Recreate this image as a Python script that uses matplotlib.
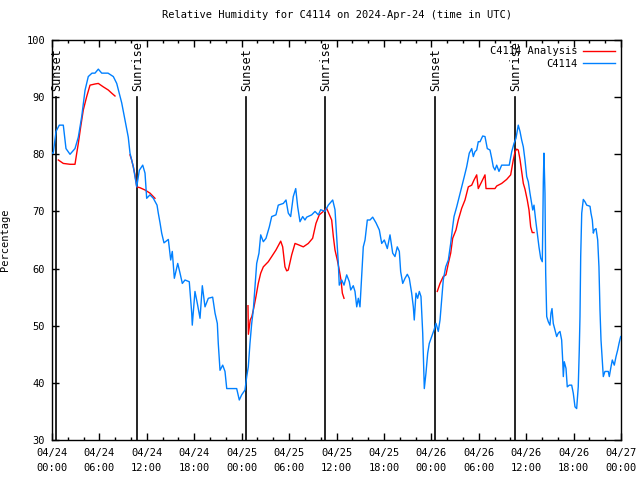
import matplotlib
matplotlib.use("Agg")
import matplotlib.pyplot as plt
import numpy as np

# Station observations (hours since 2024-04-24 00:00 UTC, relative humidity %)
obs_hours = [0.05, 0.16, 0.51, 0.92, 1.43, 1.77, 2.28, 2.91, 3.33, 3.76, 4.18, 4.59, 5.06, 5.44, 5.86,
             6.29, 7.09, 7.76, 8.19, 8.82, 9.24, 9.65, 9.87, 10.29, 10.72, 11.05, 11.48, 11.77, 11.98,
             12.40, 12.82, 13.29, 13.45, 13.67, 13.88, 14.17, 14.72, 15.02, 15.22, 15.48, 15.91, 16.20,
             16.49, 16.83, 17.37, 17.68, 17.75, 18.09, 18.39, 18.73, 19.02, 19.36, 19.78, 20.33, 20.63,
             20.92, 21.04, 21.26, 21.60, 21.89, 22.11, 23.37, 23.70, 24.00, 24.42, 24.64, 24.84, 25.05,
             25.27, 25.47, 25.69, 25.90, 26.19, 26.41, 26.74, 27.08, 27.50, 27.80, 28.34, 28.63, 29.27,
             29.61, 29.90, 30.20, 30.53, 30.84, 31.09, 31.38, 31.72, 32.01, 32.23, 32.86, 33.28, 33.70,
             34.00, 34.54, 34.96, 35.52, 35.81, 36.02, 36.23, 36.35, 36.66, 36.95, 37.29, 37.62, 37.80,
             38.12, 38.34, 38.56, 38.76, 38.97, 39.19, 39.39, 39.61, 39.90, 40.24, 40.58, 41.00, 41.42,
             41.72, 42.05, 42.43, 42.77, 43.11, 43.40, 43.69, 43.95, 44.12, 44.38, 44.67, 44.96, 45.21,
             45.51, 45.72, 45.84, 46.06, 46.27, 46.48, 46.69, 46.91, 47.11, 47.32, 47.54, 47.74, 48.05,
             48.34, 48.59, 48.88, 49.10, 49.31, 49.51, 49.82, 50.15, 50.45, 50.70, 50.87, 51.21, 51.54,
             51.84, 52.17, 52.47, 52.80, 53.11, 53.31, 53.52, 53.74, 53.94, 54.16, 54.50, 54.79, 55.08,
             55.42, 55.64, 55.84, 56.05, 56.27, 56.56, 56.90, 57.86, 58.17, 58.46, 58.71, 59.00, 59.22,
             59.43, 59.64, 59.85, 60.07, 60.27, 60.48, 60.70, 60.83, 60.99, 61.20, 61.41, 61.62, 61.84,
             62.04, 62.09, 62.17, 62.25, 62.38, 62.47, 62.60, 62.80, 63.01, 63.14, 63.27, 63.43, 63.65,
             63.86, 64.06, 64.28, 64.49, 64.62, 64.70, 64.82, 65.04, 65.20, 65.46, 65.76, 65.96, 66.18,
             66.39, 66.59, 66.72, 66.81, 66.90, 67.03, 67.23, 67.44, 67.66, 68.08, 68.20, 68.37, 68.50,
             68.62, 68.84, 69.05, 69.21, 69.34, 69.47, 69.63, 69.76, 69.97, 70.39, 70.52, 70.70, 70.90,
             71.15, 71.37, 71.58, 71.75, 71.96]
obs_rh = [80.2, 80.2, 84.0, 85.1, 85.1, 81.0, 80.0, 81.0, 83.0, 86.6, 91.2, 93.6, 94.2, 94.2, 94.9,
          94.2, 94.2, 93.6, 92.4, 89.0, 86.0, 83.0, 80.2, 77.8, 74.3, 77.2, 78.1, 76.7, 72.3,
          72.9, 72.3, 71.1, 69.7, 68.0, 66.2, 64.5, 65.1, 61.5, 63.0, 58.3, 60.9, 59.2,
          57.4, 58.0, 57.7, 52.2, 50.1, 56.0, 53.9, 51.3, 57.0, 53.3, 54.8, 55.0, 52.2,
          50.4, 46.9, 42.2, 43.1, 42.0, 39.0, 39.0, 37.0, 37.9, 38.75, 41.1, 42.8, 46.9,
          50.4, 52.7, 56.8, 60.9, 62.7, 65.9, 64.7, 65.3, 67.3, 69.1, 69.4, 71.1, 71.4,
          72.0, 69.7, 69.1, 72.6, 74.0, 70.8, 68.2, 69.1, 68.5, 69.0, 69.4, 70.0, 69.4,
          70.3, 70.0, 71.1, 72.0, 70.3, 65.6, 60.9, 57.1, 58.0, 57.1, 58.9, 57.7, 56.25,
          57.0, 56.0, 53.3, 54.8, 53.3, 58.9, 63.8, 65.0, 68.5, 68.5, 69.0, 68.0, 66.75,
          64.4, 65.0, 63.5, 65.9, 62.7, 62.1, 63.8, 63.0, 59.45, 57.4, 58.3, 59.0, 58.3,
          55.7, 53.3, 51.0, 55.7, 54.8, 56.0, 55.1, 48.7, 39.0, 41.7, 45.2, 46.9, 48.1,
          49.25, 50.4, 49.0, 51.0, 54.5, 58.0, 60.3, 61.5, 64.4, 67.3, 69.1, 70.8, 72.6,
          74.3, 76.1, 77.8, 80.2, 81.0, 79.6, 80.45, 80.75, 82.2, 82.2, 83.2, 83.1, 81.0,
          80.75, 79.3, 77.8, 77.25, 78.1, 77.0, 78.1, 78.1, 80.45, 81.9, 82.8, 85.1, 84.0,
          82.5, 81.3, 79.0, 76.1, 75.2, 73.2, 71.4, 70.25, 71.1, 68.5, 66.2, 63.8, 61.8,
          61.2, 65.9, 75.2, 80.2, 73.2, 59.2, 51.6, 50.7, 50.1, 52.2, 53.0, 50.4, 49.25,
          48.1, 48.7, 49.0, 47.5, 44.0, 41.1, 43.7, 42.55, 39.3, 39.6, 39.6, 38.2, 35.8,
          35.5, 39.3, 45.75, 51.6, 62.1, 69.7, 72.1, 71.7, 71.1, 70.9, 69.7, 68.5, 66.2,
          66.75, 67.0, 65.0, 60.3, 52.75, 47.5, 44.0, 41.1, 42.0, 42.0, 41.1, 42.55, 44.0,
          43.1, 44.6, 45.75, 46.9, 48.1]

# Analysis series (NaN marks gaps between runs)
nan = np.nan
ana_hours = [0.80, 1.43, 2.28, 2.91, 3.13, 3.33, 3.63, 3.96, 4.39, 4.81, 5.44, 5.86, 6.49, 7.12, 7.55, 7.97,
             8.9,
             9.87, 10.08, 10.29, 10.50, 10.72, 11.13, 11.77, 12.40, 13.03,
             18.0,
             24.80, 24.85, 25.08, 25.29, 25.56, 25.81, 26.10, 26.41, 26.74, 27.37, 27.80, 28.34, 28.94,
             29.19, 29.48, 29.70, 29.90, 30.33, 30.75, 31.29, 31.80, 32.43, 32.98, 33.40, 33.82, 34.33,
             34.75, 35.39, 35.60, 35.81, 36.10, 36.35, 36.57, 36.74, 36.95,
             42.0,
             48.75, 49.10, 49.51, 49.85, 50.15, 50.45, 50.70, 51.12, 51.41, 51.84, 52.26, 52.68, 53.11,
             53.40, 53.74, 53.94, 54.37, 54.79, 54.92, 56.05, 56.27, 56.90, 57.53, 58.04, 58.37, 58.59,
             58.80, 59.00, 59.22, 59.43, 59.64, 59.85, 60.14, 60.36, 60.57, 60.77, 60.99]
ana_rh = [79.0, 78.4, 78.25, 78.25, 80.2, 81.9, 84.8, 87.75, 90.1, 92.1, 92.3, 92.4, 91.8, 91.25, 90.7, 90.2,
          nan,
          79.9, 79.0, 77.8, 76.4, 74.3, 74.15, 73.75, 73.2, 72.3,
          nan,
          53.5, 48.5, 51.0, 51.6, 53.3, 55.1, 57.4, 59.2, 60.3, 61.2, 62.1, 63.25, 64.8,
          63.8, 60.3, 59.6, 59.75, 62.4, 64.4, 64.1, 63.8, 64.4, 65.3, 67.9, 69.4, 70.0,
          70.55, 68.5, 65.6, 63.25, 61.5, 59.75, 58.0, 55.7, 54.8,
          nan,
          56.0, 57.4, 58.6, 58.9, 60.9, 62.7, 65.3, 66.75, 68.5, 70.55, 72.0, 74.3, 74.6,
          75.5, 76.4, 74.0, 75.2, 76.4, 74.0, 74.0, 74.45, 74.9, 75.6, 76.4, 79.0, 80.45,
          80.9, 80.75, 79.1, 77.0, 74.9, 73.9, 72.0, 70.25, 67.3, 66.3, 66.3]

# Sunset / sunrise times
sun_hours = [0.5, 10.76, 24.55, 34.54, 48.46, 58.59]
sun_labels = ["Sunset", "Sunrise", "Sunset", "Sunrise", "Sunset", "Sunrise"]

tick_hours = list(range(0, 73, 6))
tick_labels = ["04/24\n00:00", "04/24\n06:00", "04/24\n12:00", "04/24\n18:00",
               "04/25\n00:00", "04/25\n06:00", "04/25\n12:00", "04/25\n18:00",
               "04/26\n00:00", "04/26\n06:00", "04/26\n12:00", "04/26\n18:00",
               "04/27\n00:00"]

plt.rcParams['font.family'] = ['DejaVu Sans Mono']
fs = 7.5

fig = plt.figure(figsize=(6.4, 4.8), dpi=100)
ax = fig.add_axes([52 / 640, 40 / 480, 569 / 640, 400 / 480])

for h, lab in zip(sun_hours, sun_labels):
    ax.plot([h, h], [30, 90], color='black', lw=1.2, zorder=1)
    ax.text(h + 0.15, 91, lab, rotation=90, ha='center', va='bottom', fontsize=8.5)

ax.plot(ana_hours, ana_rh, color='#ff0000', lw=1.0, label='C4114 Analysis', zorder=2)
ax.plot(obs_hours, obs_rh, color='#0080ff', lw=1.0, label='C4114', zorder=3)

ax.set_xlim(0, 72)
ax.set_ylim(30, 100)
ax.set_xticks(tick_hours)
ax.set_xticklabels(tick_labels, fontsize=fs, linespacing=1.6)
ax.set_xticks(range(0, 73, 2), minor=True)
ax.set_yticks(range(30, 101, 10))
ax.tick_params(axis='y', labelsize=fs, pad=5)
ax.tick_params(axis='x', pad=6)
ax.tick_params(which='major', direction='in', top=True, right=True, length=5, width=1)
ax.tick_params(which='minor', direction='in', top=True, right=True, length=2.5, width=1)
ax.tick_params(axis='x', which='minor', labelbottom=False)
for s in ax.spines.values():
    s.set_linewidth(1.0)

ax.set_ylabel('Percentage', fontsize=fs, labelpad=12)
ax.set_title('Relative Humidity for C4114 on 2024-Apr-24 (time in UTC)', fontsize=fs, pad=16)

ax.legend(loc='upper right', frameon=False, markerfirst=False, fontsize=fs,
          handlelength=3.0, labelspacing=0.25, borderaxespad=0.2, handletextpad=0.6)

plt.savefig('out.png', dpi=100)
